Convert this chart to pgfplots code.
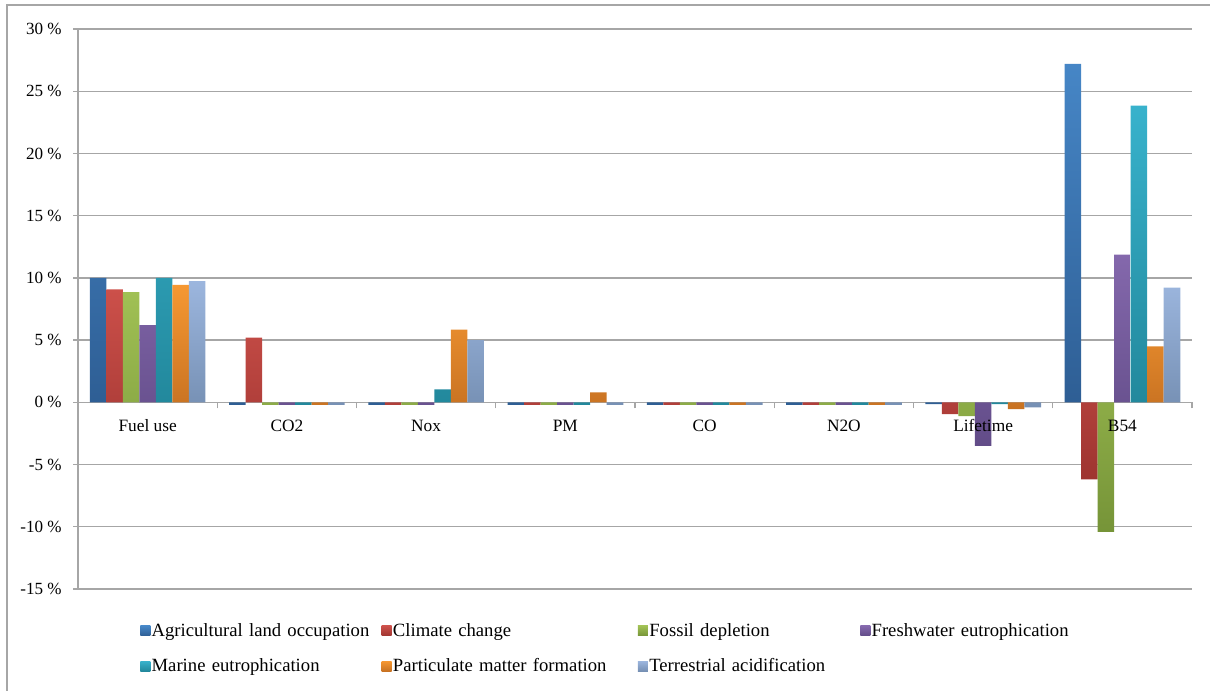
\documentclass[border=0pt]{standalone}
\usepackage{pgfplots}
\pgfplotsset{compat=1.18}
\usepackage{fontspec}
\setmainfont{Liberation Serif}
\definecolor{agT}{RGB}{70,134,198}\definecolor{agB}{RGB}{46,94,148}
\definecolor{ccT}{RGB}{204,80,74}\definecolor{ccB}{RGB}{158,52,48}
\definecolor{fdT}{RGB}{160,192,84}\definecolor{fdB}{RGB}{118,148,56}
\definecolor{feT}{RGB}{132,104,172}\definecolor{feB}{RGB}{98,76,136}
\definecolor{meT}{RGB}{56,178,204}\definecolor{meB}{RGB}{34,136,156}
\definecolor{pmT}{RGB}{246,152,50}\definecolor{pmB}{RGB}{200,114,34}
\definecolor{taT}{RGB}{156,182,222}\definecolor{taB}{RGB}{118,144,180}
\definecolor{gridc}{RGB}{166,166,166}
\pgfplotsset{
  common/.style={scale only axis, width=835.5pt, height=420pt,
    xmin=-0.5, xmax=7.5, ymin=-15, ymax=30},
}
\begin{document}
\begin{tikzpicture}
\begin{axis}[
  common,
  axis x line*=middle, axis y line*=left,
  axis line style={gridc, line width=1pt, -},
  ybar=0pt, bar width=12.4pt,
  xtick={0,...,7},
  xticklabels={},
  major x tick style={draw=none},
  minor xtick={-0.5,0.5,1.5,2.5,3.5,4.5,5.5,6.5,7.5},
  minor x tick style={gridc, line width=1pt},
  minor tick length=4.5pt,
  tick align=outside,
  ytick={-15,-10,...,30},
  yticklabels={-15 \%,-10 \%,-5 \%,0 \%,5 \%,10 \%,15 \%,20 \%,25 \%,30 \%},
  major tick length=3.75pt,
  y tick style={gridc, line width=1pt},
  ymajorgrids, grid style={gridc, line width=1pt},
  tick label style={font=\fontsize{12.8}{14}\selectfont, text=black},
  yticklabel style={xshift=-5pt},
  legend style={draw=none, fill=none, at={(0.0521,-0.054)}, anchor=north west,
    font=\fontsize{14}{16}\selectfont,
    legend columns=4,
    nodes={align=left, inner sep=1pt},
    /tikz/column 2/.style={text width=169.5pt},
    /tikz/column 4/.style={text width=180.75pt},
    /tikz/column 6/.style={text width=155.25pt},
    /tikz/column 8/.style={text width=170pt},
    /tikz/every even column/.append style={column sep=2pt},
    row sep=13pt},
  legend image code/.code={\path[#1, draw=none] (0pt,-3.75pt) rectangle (7.5pt,3.75pt);},
  clip=false,
]
\addplot[draw=none, top color=agT, bottom color=agB] coordinates {(0,10.0)(1,-0.2)(2,-0.2)(3,-0.2)(4,-0.2)(5,-0.2)(6,-0.15)(7,27.2)};
\addplot[draw=none, top color=ccT, bottom color=ccB] coordinates {(0,9.08)(1,5.2)(2,-0.2)(3,-0.2)(4,-0.2)(5,-0.2)(6,-0.95)(7,-6.2)};
\addplot[draw=none, top color=fdT, bottom color=fdB] coordinates {(0,8.85)(1,-0.2)(2,-0.2)(3,-0.2)(4,-0.2)(5,-0.2)(6,-1.1)(7,-10.4)};
\addplot[draw=none, top color=feT, bottom color=feB] coordinates {(0,6.2)(1,-0.2)(2,-0.2)(3,-0.2)(4,-0.2)(5,-0.2)(6,-3.5)(7,11.87)};
\addplot[draw=none, top color=meT, bottom color=meB] coordinates {(0,10.0)(1,-0.2)(2,1.05)(3,-0.2)(4,-0.2)(5,-0.2)(6,-0.15)(7,23.85)};
\addplot[draw=none, top color=pmT, bottom color=pmB] coordinates {(0,9.43)(1,-0.2)(2,5.85)(3,0.8)(4,-0.2)(5,-0.2)(6,-0.55)(7,4.5)};
\addplot[draw=none, top color=taT, bottom color=taB] coordinates {(0,9.73)(1,-0.2)(2,5.0)(3,-0.2)(4,-0.2)(5,-0.2)(6,-0.4)(7,9.22)};
\legend{Agricultural land occupation,Climate change,Fossil depletion,Freshwater eutrophication,Marine eutrophication,Particulate matter formation,Terrestrial acidification}
\coordinate (bl) at (axis description cs:-0.07002,-0.18214);
\coordinate (tr) at (axis description cs:1.01616,1.05179);
\draw[gridc, line width=1pt] (axis description cs:-0.0637,-0.2) |- (axis description cs:1.03,1.0429);
\end{axis}
\begin{axis}[
  common,
  axis x line*=middle, axis y line=none,
  x axis line style={draw=none},
  xtick={0,...,7},
  xticklabels={Fuel use,CO2,Nox,PM,CO,N2O,Lifetime,B54},
  x tick style={draw=none},
  ytick=\empty,
  xticklabel style={font=\fontsize{13}{15}\selectfont, text=black, yshift=-9.5pt},
]
\end{axis}
\pgfresetboundingbox
\path (bl) rectangle (tr);
\end{tikzpicture}
\end{document}
